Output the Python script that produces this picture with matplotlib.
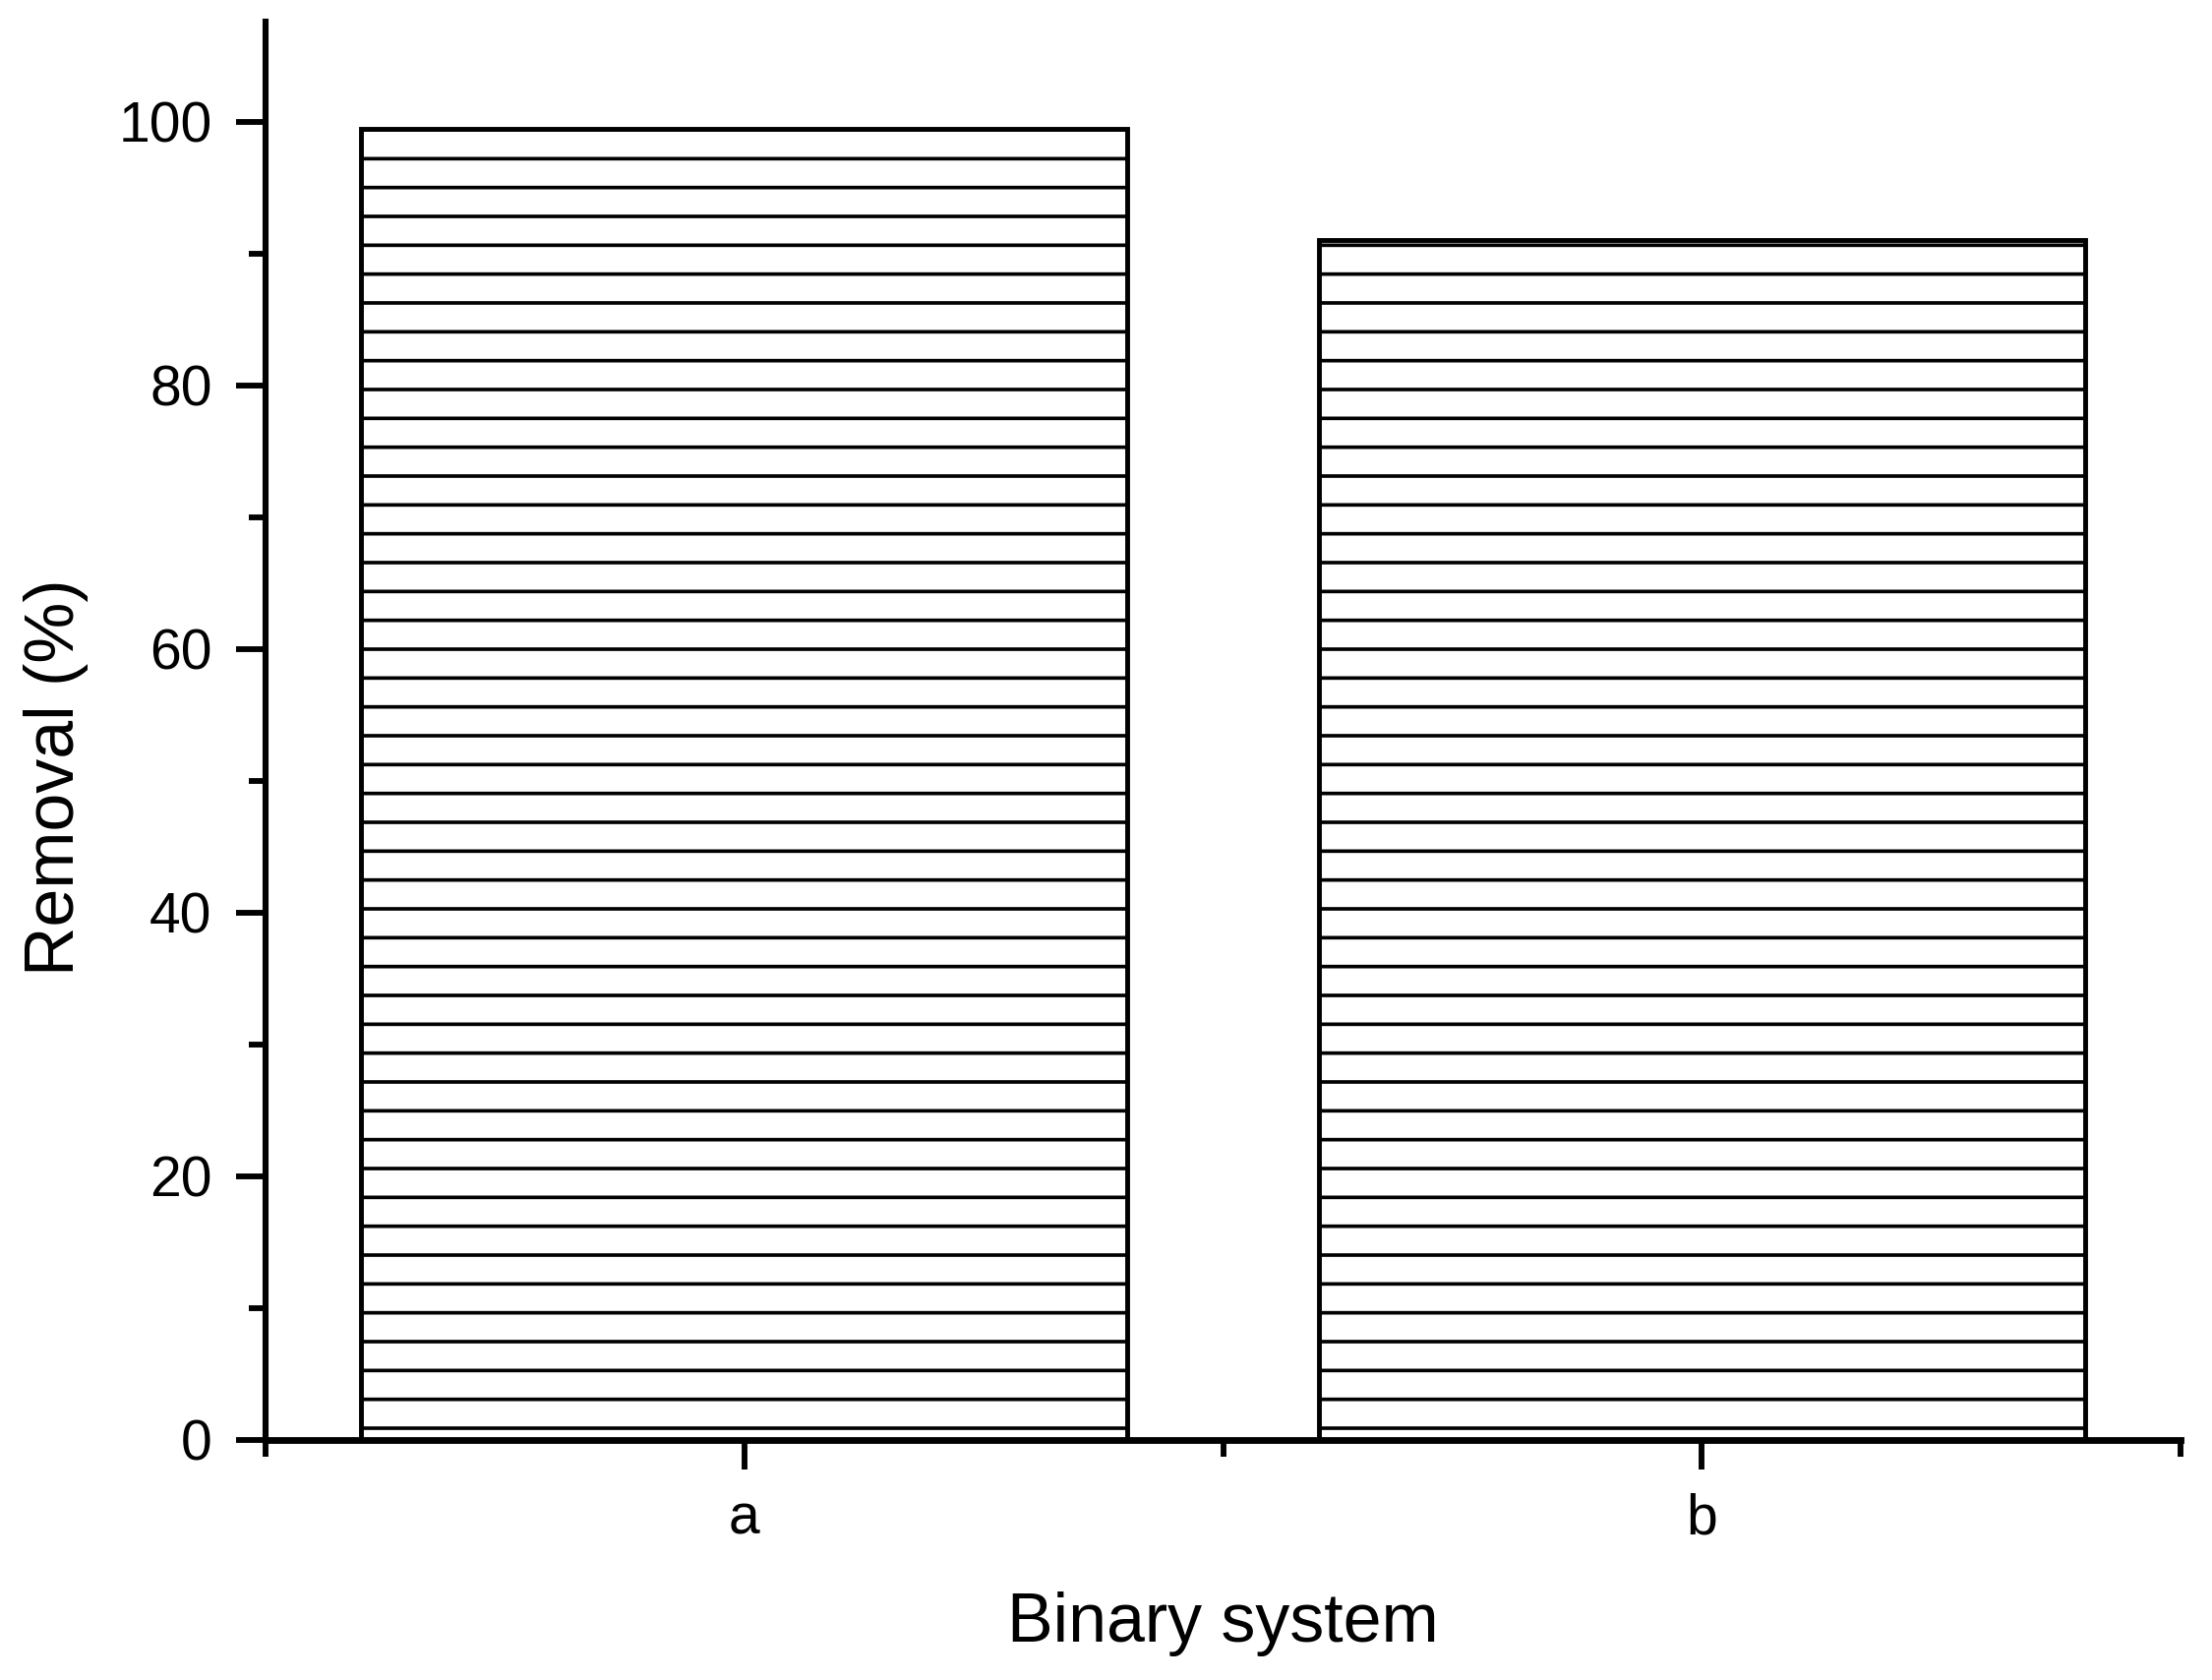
import matplotlib
matplotlib.use("Agg")
import matplotlib.pyplot as plt
import numpy as np

# data
categories = ["a", "b"]
removal = [99.5, 91.0]

DPI = 176
plt.rcParams["font.family"] = ["Liberation Sans", "DejaVu Sans"]
plt.rcParams["hatch.linewidth"] = 1.5
plt.rcParams["hatch.color"] = "black"

fig = plt.figure(figsize=(2249 / DPI, 1708 / DPI), dpi=DPI)
ax = fig.add_axes([0.1201, 0.1429, 0.8657, 0.8442])

x = np.arange(1, len(categories) + 1)
ax.bar(x, removal, width=0.8, facecolor="white", edgecolor="black",
       linewidth=2.0, hatch="-", zorder=2)

ax.set_xlim(0.5, 2.5)
ax.set_ylim(0, 107.6)

# axes look (Origin style)
for side in ["top", "right"]:
    ax.spines[side].set_visible(False)
ax.spines["left"].set_linewidth(2.5)
ax.spines["bottom"].set_linewidth(2.8)

ax.set_xticks(x)
ax.set_xticklabels(categories)
ax.set_xticks([0.5, 1.5, 2.5], minor=True)
ax.set_yticks(np.arange(0, 101, 20))
ax.set_yticks(np.arange(10, 100, 20), minor=True)

ax.tick_params(axis="both", which="major", direction="out", length=12.3,
               width=2.4, labelsize=23.3, color="black")
ax.tick_params(axis="both", which="minor", direction="out", length=7,
               width=2.4)
ax.tick_params(axis="y", which="major", pad=10)
ax.tick_params(axis="x", which="major", pad=9.5)

ax.set_ylabel("Removal (%)", fontsize=28.6)
ax.set_xlabel("Binary system", fontsize=28.6)
ax.yaxis.set_label_coords(-0.0925, 0.467)
ax.xaxis.set_label_coords(0.5, -0.107)

fig.savefig("out.png", dpi=DPI)
plt.close(fig)
